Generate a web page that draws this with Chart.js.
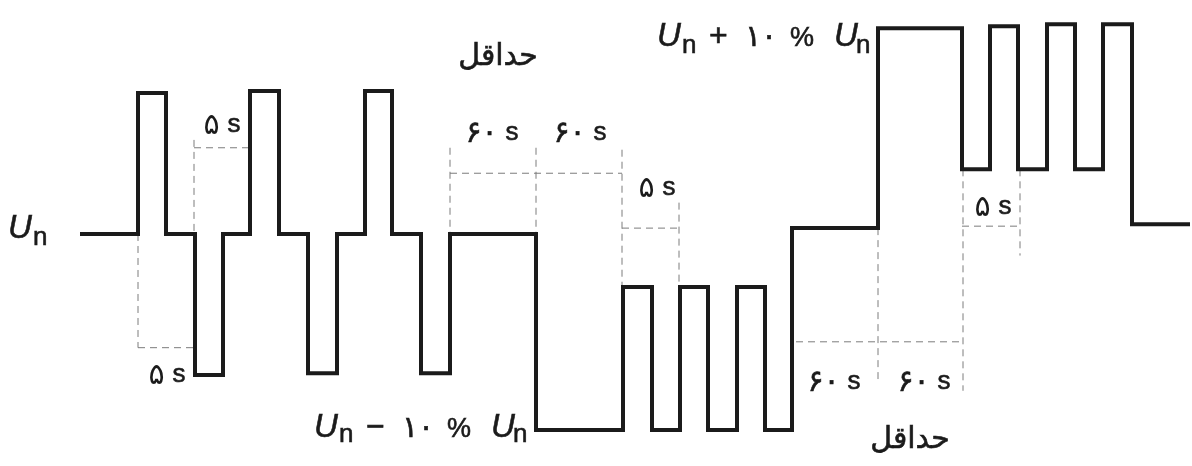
<!DOCTYPE html>
<html>
<head>
<meta charset="utf-8">
<script src="https://cdn.jsdelivr.net/npm/chart.js@4"></script>
<style>
  html, body { margin: 0; background: #fff; }
  canvas { display: block; }
</style>
</head>
<body>
<canvas id="wave" width="1192" height="466"></canvas>
<script>
// switching instants (schematic time axis) and the voltage level (% of Un) held from each instant
const times  = [80, 138, 166, 195, 223, 250, 279, 308, 337, 365, 392, 421, 450, 536, 623, 652, 680, 708, 737, 765, 792, 878, 962, 990, 1018, 1047, 1075, 1103, 1132, 1190];
const levels = [100, 107.2, 100, 92.8, 100, 107.3, 100, 92.9, 100, 107.3, 100, 92.9, 100, 90, 97.3, 90, 97.3, 90, 97.3, 90, 100.3, 110.5, 103.3, 110.6, 103.3, 110.7, 103.3, 110.7, 100.5, 100.5];

// dashed timing guides: [t1, v1, t2, v2]
const guides = [
  [138, 100, 138, 94.2], [138, 94.2, 195, 94.2],
  [194, 104.8, 194, 100], [194, 104.4, 250, 104.4],
  [450, 104.4, 450, 100], [536, 104.4, 536, 100], [450, 103.1, 622, 103.1], [622, 104.3, 622, 97.3],
  [679, 101.6, 679, 97.3], [622, 100.3, 679, 100.3],
  [796, 94.5, 963, 94.5], [878, 100.3, 878, 92.6], [963, 103.3, 963, 92.0],
  [1020, 103.3, 1020, 98.9], [962, 100.4, 1020, 100.4]
];

// duration marks: number (Persian digits) + unit
const durationNums = ['۵', '۵', '۶۰', '۶۰', '۵', '۵', '۶۰', '۶۰'];
const durationUnit = 's';
const minLabel = 'حداقل';
const pctText = '۱۰';

const ink = '#1b1b1b';
const latin = '"Liberation Sans", "DejaVu Sans", sans-serif';
const arabic = '"DejaVu Sans", sans-serif';

const wave = times.map((t, i) => ({ x: t, y: levels[i] }));
const guideData = [];
guides.forEach(g => {
  guideData.push({ x: g[0], y: g[1] }, { x: g[2], y: g[3] }, { x: g[2], y: null });
});

function put(ctx, text, font, px, py, bold = true) {
  ctx.font = font;
  ctx.fillText(text, px, py);
  if (bold) ctx.strokeText(text, px, py);
}

const fU = 'italic 33px ' + latin;
const fn = '26px ' + latin;
const fOp = '32px ' + latin;
const fPct = '27px ' + latin;
const fNum = '30px ' + arabic;

const textMarks = {
  id: 'textMarks',
  afterDatasetsDraw(chart) {
    const { ctx, scales: { x, y } } = chart;
    ctx.save();
    ctx.fillStyle = ink;
    ctx.strokeStyle = ink;
    ctx.lineWidth = 0.6;
    ctx.textBaseline = 'middle';

    // "5 s" / "60 s" labels, centred on their spot
    const spots = [[167, 92.8], [222, 105.56], [492, 105.15], [580, 105.15], [657, 102.35], [993, 101.38], [834, 92.45], [924, 92.45]];
    durationNums.forEach((num, i) => {
      const cx = x.getPixelForValue(spots[i][0]);
      const cy = y.getPixelForValue(spots[i][1]);
      const numFont = '30px ' + arabic;
      const unitFont = '26px ' + latin;
      ctx.font = numFont;
      const w1 = ctx.measureText(num).width;
      ctx.font = unitFont;
      const gap = 8;
      const w2 = ctx.measureText(durationUnit).width;
      const left = cx - (w1 + gap + w2) / 2;
      ctx.textAlign = 'left';
      put(ctx, num, numFont, left, cy + 1, num.length > 1);
      put(ctx, durationUnit, unitFont, left + w1 + gap, cy);
    });

    ctx.textAlign = 'center';
    put(ctx, minLabel, '30px ' + arabic, x.getPixelForValue(498), y.getPixelForValue(109.03));
    put(ctx, minLabel, '30px ' + arabic, x.getPixelForValue(910), y.getPixelForValue(89.49));

    // voltage level labels; offsets are from the label's left edge, baseline at U
    ctx.textAlign = 'left';
    ctx.textBaseline = 'alphabetic';
    function level(left, base, op, nDy) {
      const lx = x.getPixelForValue(left);
      const by = y.getPixelForValue(base);
      put(ctx, 'U', fU, lx, by);
      put(ctx, 'n', fn, lx + 25, by + nDy);
      if (!op) return;
      put(ctx, op, fOp, lx + 52, by);
      put(ctx, pctText, fNum, lx + 88, by);
      put(ctx, '%', fPct, lx + 133, by);
      put(ctx, 'U', fU, lx + 177, by);
      put(ctx, 'n', fn, lx + 199, by + nDy);
    }
    level(8, 99.8, null, 7);
    level(657, 109.59, '+', 7);
    level(314, 89.64, '\u2212', 5);
    ctx.restore();
  }
};

new Chart(document.getElementById('wave'), {
  type: 'line',
  data: {
    datasets: [
      {
        data: wave,
        stepped: 'before',
        borderColor: ink,
        borderWidth: 4,
        borderJoinStyle: 'miter',
        pointRadius: 0,
        fill: false
      },
      {
        data: guideData,
        borderColor: '#7c7c7c',
        borderWidth: 1,
        borderDash: [7, 5],
        pointRadius: 0,
        spanGaps: false,
        fill: false
      }
    ]
  },
  options: {
    responsive: false,
    animation: false,
    layout: { padding: 0 },
    plugins: {
      legend: { display: false },
      tooltip: { enabled: false }
    },
    scales: {
      x: { type: 'linear', display: false, min: 0, max: 1192 },
      y: { type: 'linear', display: false, min: 88.163, max: 111.939 }
    }
  },
  plugins: [textMarks]
});
</script>
</body>
</html>
